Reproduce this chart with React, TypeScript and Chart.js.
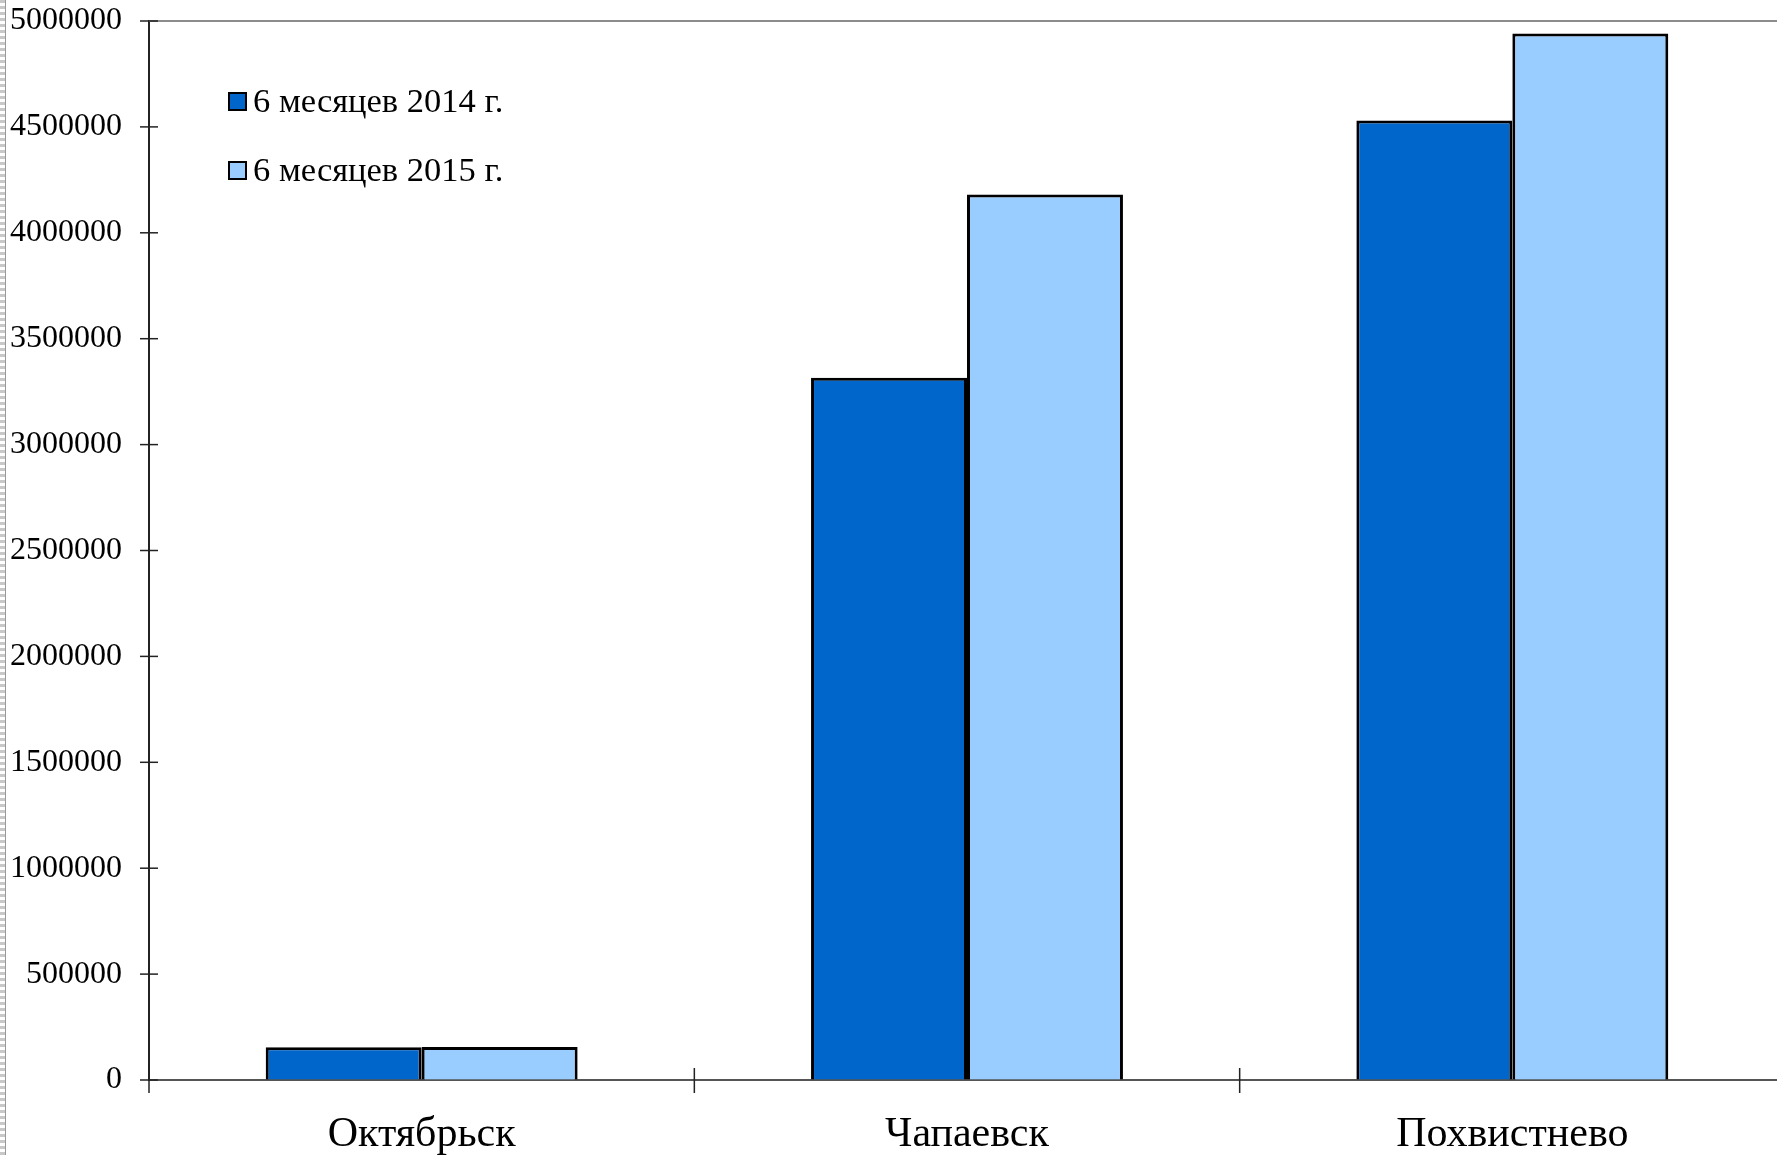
import React, { useEffect, useRef } from "react";
import { Chart, registerables } from "chart.js";

Chart.register(...registerables);

const categories = ["Октябрьск", "Чапаевск", "Похвистнево"];
const seriesLabels = ["6 месяцев 2014 г.", "6 месяцев 2015 г."];
const values2014 = [155000, 3316000, 4530000];
const values2015 = [156000, 4181000, 4941000];
const seriesColors = ["#0066CC", "#99CCFF"];
const yMin = 0;
const yMax = 5000000;
const yStep = 500000;

const FONT = "'Liberation Serif', 'Times New Roman', serif";

const framePlugin = {
  id: "framePlugin",
  afterDraw(chart: any) {
    const ctx = chart.ctx;
    const area = chart.chartArea;
    const xs = chart.scales.x;
    const ys = chart.scales.y;
    ctx.save();
    // top border of the plot area
    ctx.strokeStyle = "#8c8c8c";
    ctx.lineWidth = 2;
    ctx.beginPath();
    ctx.moveTo(area.left, area.top);
    ctx.lineTo(area.right, area.top);
    ctx.stroke();
    // y ticks crossing the y axis
    ctx.strokeStyle = "#222";
    ctx.lineWidth = 1.5;
    ys.ticks.forEach((t: any) => {
      const y = ys.getPixelForValue(t.value);
      ctx.beginPath();
      ctx.moveTo(area.left - 9, y);
      ctx.lineTo(area.left + 9, y);
      ctx.stroke();
    });
    // category boundary ticks crossing the x axis
    const y0 = ys.getPixelForValue(0);
    const n = chart.data.labels.length;
    const step = xs.width / n;
    for (let i = 0; i <= n; i++) {
      const x = xs.left + i * step;
      ctx.beginPath();
      ctx.moveTo(x, y0 - 12);
      ctx.lineTo(x, y0 + 13);
      ctx.stroke();
    }
    // legend inside the plot
    const items = chart.data.datasets;
    ctx.font = `34.5px ${FONT}`;
    ctx.textBaseline = "middle";
    ctx.textAlign = "left";
    items.forEach((ds: any, i: number) => {
      const bx = 229;
      const by = 93 + i * 69;
      ctx.fillStyle = ds.backgroundColor;
      ctx.fillRect(bx, by, 17, 17);
      ctx.strokeStyle = "#000";
      ctx.lineWidth = 2;
      ctx.strokeRect(bx, by, 17, 17);
      ctx.fillStyle = "#000";
      ctx.fillText(ds.label, bx + 24, by + 10);
    });
    ctx.restore();
  },
};

export default function App() {
  const ref = useRef<HTMLCanvasElement | null>(null);

  useEffect(() => {
    if (!ref.current) return;
    const chart = new Chart(ref.current, {
      type: "bar",
      data: {
        labels: categories,
        datasets: [
          {
            label: seriesLabels[0],
            data: values2014,
            backgroundColor: seriesColors[0],
            borderColor: "#000",
            borderWidth: 3,
            categoryPercentage: 0.572,
            barPercentage: 1,
          },
          {
            label: seriesLabels[1],
            data: values2015,
            backgroundColor: seriesColors[1],
            borderColor: "#000",
            borderWidth: 3,
            categoryPercentage: 0.572,
            barPercentage: 1,
          },
        ],
      },
      options: {
        responsive: false,
        animation: false,
        devicePixelRatio: 1,
        layout: { padding: { top: 21, right: 5, bottom: 0, left: 0 } },
        plugins: {
          legend: { display: false },
          tooltip: { enabled: false },
        },
        scales: {
          x: {
            grid: { display: false },
            border: { display: true, color: "#555", width: 2 },
            ticks: {
              color: "#000",
              font: { family: FONT, size: 42 },
              padding: 22,
              maxRotation: 0,
            },
            afterFit(scale: any) {
              scale.height = 75;
            },
          },
          y: {
            min: yMin,
            max: yMax,
            grid: {
              display: true,
              drawOnChartArea: false,
              drawTicks: true,
              tickLength: 10,
              color: "rgba(0,0,0,0)",
            },
            border: { display: true, color: "#222", width: 2 },
            ticks: {
              stepSize: yStep,
              color: "#000",
              font: { family: FONT, size: 32 },
              padding: 17,
              callback: (v: any) => String(v),
            },
            afterFit(scale: any) {
              scale.width = 149;
              scale.paddingTop = 0;
              scale.paddingBottom = 0;
            },
          },
        },
      },
      plugins: [framePlugin],
    });
    return () => chart.destroy();
  }, []);

  return (
    <div
      style={{
        position: "absolute",
        left: 0,
        top: 0,
        width: 1777,
        height: 1155,
        overflow: "hidden",
        background: "#fff",
      }}
    >
      <canvas
        ref={ref}
        width={1790}
        height={1155}
        style={{ display: "block", width: 1790, height: 1155 }}
      />
      <div
        style={{
          position: "absolute",
          left: 0,
          top: 0,
          width: 5,
          height: 1155,
          borderRight: "1px solid #999",
          background:
            "repeating-linear-gradient(to bottom, #c8c8c8 0px, #c8c8c8 3px, #fff 3px, #fff 6px)",
        }}
      />
    </div>
  );
}
